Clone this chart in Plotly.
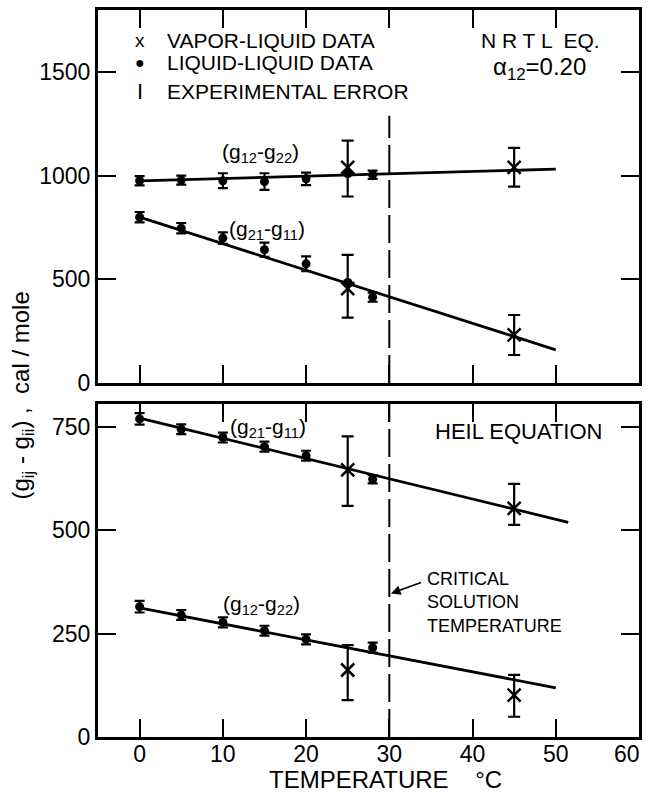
import plotly.graph_objects as go

# ---------------- data ----------------
T_LL = [0, 5, 10, 15, 20, 28]          # liquid-liquid temperatures
T_VL = [25, 45]                         # vapor-liquid temperatures
T_CRIT = 30

# NRTL (top panel)
nrtl_g12_LL = [976, 979, 976, 972, 985, 1005]
nrtl_g12_LL_err = [22, 22, 36, 40, 30, 20]
nrtl_g21_LL = [800, 747, 699, 643, 575, 414]
nrtl_g21_LL_err = [25, 25, 28, 34, 36, 22]
T_LL_extra = [25]
nrtl_g12_LL_extra = [1012]
nrtl_g21_LL_extra = [482]
nrtl_g12_VL = [1040, 1040]
nrtl_g12_VL_up = [130, 95]
nrtl_g12_VL_dn = [140, 92]
nrtl_g21_VL = [455, 232]
nrtl_g21_VL_up = [163, 96]
nrtl_g21_VL_dn = [140, 97]
fit_T = [0, 50]
nrtl_g12_fit = [975, 1032]
nrtl_g21_fit = [800, 160]
crit_top_span = [0, 1290]

# Heil (bottom panel)
heil_g21_LL = [769, 744, 724, 702, 680, 623]
heil_g21_LL_err = [14, 12, 12, 12, 12, 10]
heil_g12_LL = [315, 295, 277, 257, 236, 216]
heil_g12_LL_err = [14, 12, 12, 12, 12, 12]
heil_g21_VL = [646, 553]
heil_g21_VL_up = [81, 59]
heil_g21_VL_dn = [87, 40]
heil_g12_VL = [162, 101]
heil_g12_VL_up = [60, 49]
heil_g12_VL_dn = [73, 52]
heil_fit_T_g21 = [0, 51.5]
heil_g21_fit = [771, 519]
heil_fit_T_g12 = [0, 50]
heil_g12_fit = [312, 119]
crit_bot_span = [0, 805]

x_ticks = [0, 10, 20, 30, 40, 50]
x_last_label = 60
top_yticks = [0, 500, 1000, 1500]
bot_yticks = [0, 250, 500, 750]

FONT = "Liberation Sans"
BLACK = "black"

fig = go.Figure()

def add_panel(xa, ya, ll_sets, vl_sets, fits, extra=None):
    for xs, ys in fits:
        fig.add_trace(go.Scatter(x=xs, y=ys, mode="lines", xaxis=xa, yaxis=ya,
                                 line=dict(color=BLACK, width=2.8), showlegend=False,
                                 hoverinfo="skip"))
    for ys, err in ll_sets:
        fig.add_trace(go.Scatter(x=T_LL, y=ys, mode="markers", xaxis=xa, yaxis=ya,
                                 marker=dict(symbol="circle", size=9, color=BLACK),
                                 error_y=dict(type="data", array=err, color=BLACK,
                                              thickness=2.2, width=5),
                                 showlegend=False))
    if extra:
        for ys in extra:
            fig.add_trace(go.Scatter(x=T_LL_extra, y=ys, mode="markers", xaxis=xa, yaxis=ya,
                                     marker=dict(symbol="circle", size=10, color=BLACK),
                                     showlegend=False))
    for ys, up, dn in vl_sets:
        fig.add_trace(go.Scatter(x=T_VL, y=ys, mode="markers", xaxis=xa, yaxis=ya,
                                 marker=dict(symbol="x-thin-open", size=13, color=BLACK,
                                             line=dict(color=BLACK, width=2.5)),
                                 error_y=dict(type="data", symmetric=False, array=up,
                                              arrayminus=dn, color=BLACK,
                                              thickness=2.2, width=6),
                                 showlegend=False))

add_panel("x", "y",
          [(nrtl_g12_LL, nrtl_g12_LL_err), (nrtl_g21_LL, nrtl_g21_LL_err)],
          [(nrtl_g12_VL, nrtl_g12_VL_up, nrtl_g12_VL_dn),
           (nrtl_g21_VL, nrtl_g21_VL_up, nrtl_g21_VL_dn)],
          [(fit_T, nrtl_g12_fit), (fit_T, nrtl_g21_fit)],
          extra=[nrtl_g12_LL_extra, nrtl_g21_LL_extra])

add_panel("x2", "y2",
          [(heil_g21_LL, heil_g21_LL_err), (heil_g12_LL, heil_g12_LL_err)],
          [(heil_g21_VL, heil_g21_VL_up, heil_g21_VL_dn),
           (heil_g12_VL, heil_g12_VL_up, heil_g12_VL_dn)],
          [(heil_fit_T_g21, heil_g21_fit), (heil_fit_T_g12, heil_g12_fit)])

# critical solution temperature dashed lines
fig.add_trace(go.Scatter(x=[T_CRIT, T_CRIT], y=crit_top_span, mode="lines", xaxis="x", yaxis="y",
                         line=dict(color=BLACK, width=2, dash="28px,7px"),
                         showlegend=False, hoverinfo="skip"))
fig.add_trace(go.Scatter(x=[T_CRIT, T_CRIT], y=crit_bot_span, mode="lines", xaxis="x2", yaxis="y2",
                         line=dict(color=BLACK, width=2, dash="28px,7px"),
                         showlegend=False, hoverinfo="skip"))

axis_common = dict(showline=True, linecolor=BLACK, linewidth=3, mirror="allticks",
                   ticks="inside", ticklen=18, tickwidth=2, tickcolor=BLACK,
                   showgrid=False, zeroline=False,
                   tickfont=dict(family=FONT, size=23, color=BLACK))

fig.update_layout(
    width=648, height=793,
    margin=dict(l=98, r=6, t=10, b=56),
    paper_bgcolor="white", plot_bgcolor="white",
    xaxis=dict(domain=[0, 1], range=[-5, 60], anchor="y", tickvals=x_ticks,
               showticklabels=False, **axis_common),
    yaxis=dict(domain=[0.487, 1], range=[0, 1800], anchor="x", tickvals=top_yticks,
               **axis_common),
    xaxis2=dict(domain=[0, 1], range=[-5, 60], anchor="y2", tickvals=x_ticks,
                ticklabelstandoff=-6, **axis_common),
    yaxis2=dict(domain=[0, 0.458], range=[0, 805], anchor="x2", tickvals=bot_yticks,
                **axis_common),
)

def ann(text, x, y, xref="x", yref="y", size=21, xanchor="center", align="center", **kw):
    fig.add_annotation(text=text, x=x, y=y, xref=xref, yref=yref, showarrow=False,
                       xanchor=xanchor, align=align,
                       font=dict(family=FONT, size=size, color=BLACK), **kw)

# last x tick label (sits at the right frame edge)
ann(str(x_last_label), 58.6, -0.024, xref="x2", yref="paper", size=23, yanchor="middle")

# legend block (top panel)
ann("x", 0, 1655, size=19)
ann("●", 0, 1545, size=16)
ann("I", 0, 1408, size=22)
ann("VAPOR-LIQUID DATA", 3.0, 1652, xanchor="left")
ann("LIQUID-LIQUID DATA", 3.0, 1545, xanchor="left")
ann("EXPERIMENTAL ERROR", 3.0, 1408, xanchor="left")
ann("N R T L  EQ.", 48.2, 1655, size=21)
ann("α<sub>12</sub>=0.20", 48.0, 1518, size=24)

# curve labels
ann("(g<sub>12</sub>-g<sub>22</sub>)", 14.5, 1112)
ann("(g<sub>21</sub>-g<sub>11</sub>)", 15.3, 740)
ann("(g<sub>21</sub>-g<sub>11</sub>)", 15.4, 748, xref="x2", yref="y2")
ann("(g<sub>12</sub>-g<sub>22</sub>)", 14.6, 318, xref="x2", yref="y2")
ann("HEIL EQUATION", 45.5, 738, xref="x2", yref="y2", size=22)
ann("CRITICAL<br>SOLUTION<br>TEMPERATURE", 34.3, 325, xref="x2", yref="y2",
    size=18, xanchor="left", align="left")
fig.add_annotation(x=30.2, y=347, xref="x2", yref="y2", ax=34.0, ay=375,
                   axref="x2", ayref="y2", showarrow=True, arrowhead=2,
                   arrowsize=1.2, arrowwidth=1.6, arrowcolor=BLACK, text="")

# axis titles
ann("TEMPERATURE    °C", 29.5, -0.059, xref="x2", yref="paper", size=24,
    yanchor="middle")
fig.add_annotation(text="(g<sub>ij</sub> - g<sub>ii</sub>) ,  cal / mole",
                   x=-0.14, y=0.47, xref="paper", yref="paper", showarrow=False,
                   textangle=-90, xanchor="center", yanchor="middle",
                   font=dict(family=FONT, size=24, color=BLACK))

fig.write_html("out.html", config={"displayModeBar": False},
               post_script="document.body.style.margin='0';document.body.style.padding='0';")
